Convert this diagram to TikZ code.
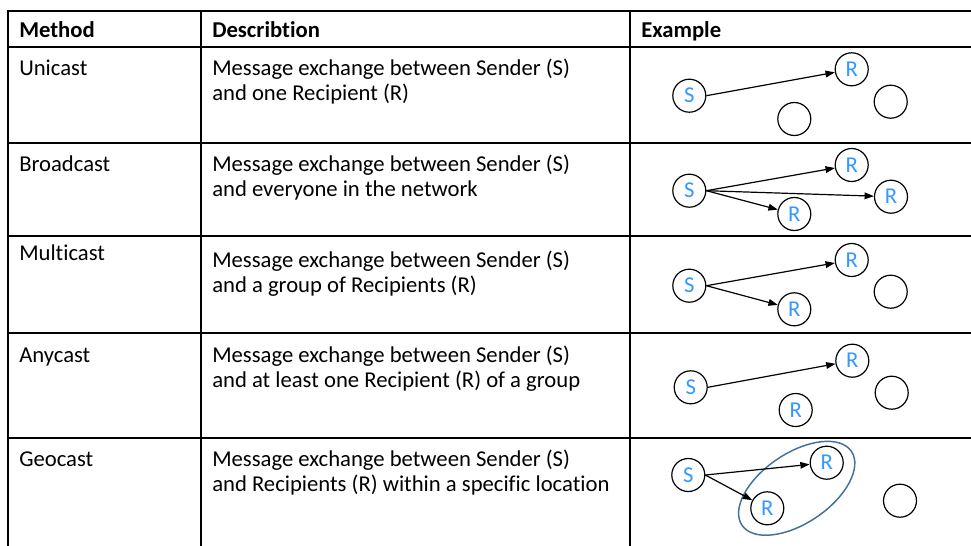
\documentclass[tikz,border=0pt]{standalone}
\usepackage{fontspec}
\setmainfont{Carlito}[Ligatures=NoCommon]
\usetikzlibrary{arrows.meta}
\definecolor{letterblue}{RGB}{51,153,255}
\definecolor{zoneblue}{RGB}{65,113,156}
\begin{document}
\begin{tikzpicture}[x=0.75pt,y=-0.75pt,
  grid/.style={line width=1.5pt},
  cell/.style={anchor=base west, inner sep=0pt, font=\fontsize{17}{20}\selectfont},
  head/.style={cell, font=\fontsize{17}{20}\selectfont\bfseries},
  station/.style={circle, draw, line width=0.9pt, minimum size=24.75pt, inner sep=0pt,
    text=letterblue, font=\fontsize{17}{20}\selectfont},
  msg/.style={-{Triangle[length=7pt,width=5pt]}, line width=0.9pt},
  zone/.style={draw=zoneblue, line width=1.1pt}]
\useasboundingbox (0,0) rectangle (971,546);
\fill[white] (0,0) rectangle (971,546);

% table rules
\draw[grid] (971,10.5) -- (8,10.5) -- (8,546);
\draw[grid] (201,10.5) -- (201,546);
\draw[grid] (630,10.5) -- (630,546);
\foreach \y in {47,142.5,236,332.5,437.5}
  \draw[grid] (8,\y) -- (971,\y);

% header
\node[head] (hm) at (19,37) {Method};
\node[head] (hd) at (212,37) {Describtion};
\node[head] (he) at (641,37) {Example};

% method names
\node[cell] (m1) at (19,75) {Unicast};
\node[cell] (m2) at (19,171) {Broadcast};
\node[cell] (m3) at (19,260) {Multicast};
\node[cell] (m4) at (19,362) {Anycast};
\node[cell] (m5) at (19,466) {Geocast};

% descriptions
\node[cell] (d1a) at (212,75) {Message exchange between Sender (S)};
\node[cell] (d1b) at (212,100) {and one Recipient (R)};
\node[cell] (d2a) at (212,171) {Message exchange between Sender (S)};
\node[cell] (d2b) at (212,196) {and everyone in the network};
\node[cell] (d3a) at (212,267) {Message exchange between Sender (S)};
\node[cell] (d3b) at (212,292) {and a group of Recipients (R)};
\node[cell] (d4a) at (212,362) {Message exchange between Sender (S)};
\node[cell] (d4b) at (212,387) {and at least one Recipient (R) of a group};
\node[cell] (d5a) at (212,466) {Message exchange between Sender (S)};
\node[cell] (d5b) at (212,491) {and Recipients (R) within a specific location};

% unicast
\node[station] (us) at (689.3,95.7) {S};
\node[station] (ur) at (851.7,69.3) {R};
\node[station] (un1) at (794.3,119) {};
\node[station] (un2) at (890.7,101.7) {};
\draw[msg] (us.east) -- (ur);

% broadcast
\node[station] (bs) at (689.3,190.7) {S};
\node[station] (br1) at (851.7,165) {R};
\node[station] (br2) at (891,196.7) {R};
\node[station] (br3) at (794.3,214) {R};
\draw[msg] (bs.east) -- (br1);
\draw[msg] (bs.east) -- (br2);
\draw[msg] (bs.east) -- (br3);

% multicast
\node[station] (ms) at (689.3,285.7) {S};
\node[station] (mr1) at (851.7,260) {R};
\node[station] (mr2) at (794.3,309.3) {R};
\node[station] (mn) at (890.7,291.7) {};
\draw[msg] (ms.east) -- (mr1);
\draw[msg] (ms.east) -- (mr2);

% anycast
\node[station] (as) at (690.7,387.3) {S};
\node[station] (ar1) at (852.3,360.7) {R};
\node[station] (ar2) at (795.7,410) {R};
\node[station] (an) at (891.7,392.7) {};
\draw[msg] (as.east) -- (ar1);

% geocast
\coordinate (gc) at (796.7,488.3);
\draw[zone, rotate around={34:(gc)}] (gc) ellipse [x radius=66, y radius=35];
\node[station] (gs) at (688.3,475) {S};
\node[station] (gr1) at (826.7,462.7) {R};
\node[station] (gr2) at (767.3,508.3) {R};
\node[station] (gn) at (900,500.7) {};
\draw[msg] (gs.east) -- (gr1);
\draw[msg] (gs.east) -- (gr2);
\end{tikzpicture}
\end{document}
